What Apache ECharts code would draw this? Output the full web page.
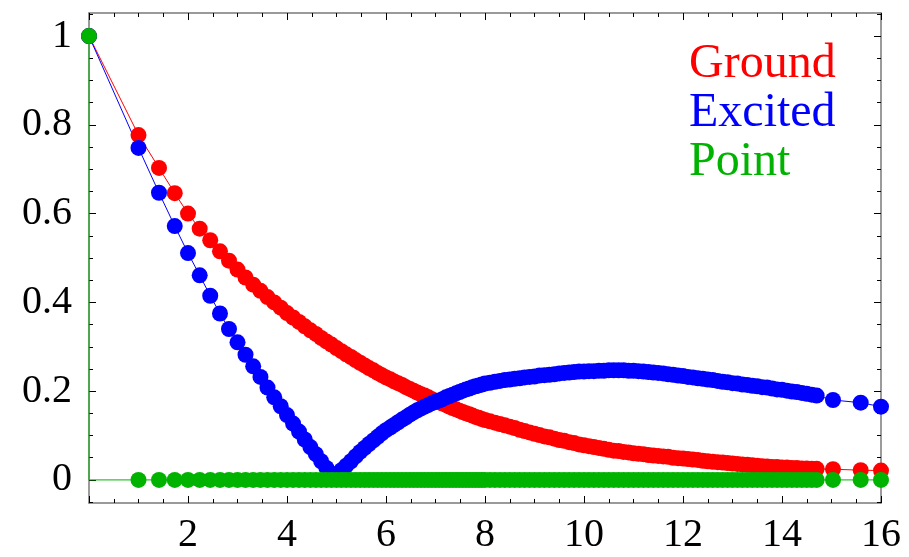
<!DOCTYPE html>
<html>
<head>
<meta charset="utf-8">
<script src="https://cdn.jsdelivr.net/npm/echarts@6/dist/echarts.min.js"></script>
<style>
  html, body { margin: 0; padding: 0; background: #fff; }
  #chart { width: 909px; height: 557px; }
</style>
</head>
<body>
<div id="chart"></div>
<script>
// Sample positions along the horizontal axis
const xValues = [
  0, 1, 1.414, 1.732, 2, 2.236, 2.449, 2.646, 2.828, 3, 3.162, 3.317, 3.464, 3.606, 3.742, 3.873,
  4, 4.123, 4.243, 4.359, 4.472, 4.583, 4.690, 4.796, 4.899, 5, 5.099, 5.196, 5.292, 5.385, 5.477,
  5.568, 5.657, 5.745, 5.831, 5.916, 6, 6.083, 6.164, 6.245, 6.325, 6.403, 6.481, 6.557, 6.633,
  6.708, 6.782, 6.856, 6.928, 7, 7.071, 7.141, 7.211, 7.280, 7.348, 7.416, 7.483, 7.550, 7.616,
  7.681, 7.746, 7.810, 7.874, 7.937, 8,
  8.1, 8.2, 8.3, 8.4, 8.5, 8.6, 8.7, 8.8, 8.9, 9, 9.1, 9.2, 9.3, 9.4, 9.5, 9.6, 9.7, 9.8, 9.9, 10,
  10.1, 10.2, 10.3, 10.4, 10.5, 10.6, 10.7, 10.8, 10.9, 11, 11.1, 11.2, 11.3, 11.4, 11.5, 11.6, 11.7,
  11.8, 11.9, 12, 12.1, 12.2, 12.3, 12.4, 12.5, 12.6, 12.7, 12.8, 12.9, 13, 13.1, 13.2, 13.3, 13.4,
  13.5, 13.6, 13.7, 13.8, 13.9, 14, 14.1, 14.2, 14.3, 14.4, 14.5, 14.6, 14.7,
  15.03, 15.59, 16
];

const groundValues = [
  1, 0.777, 0.703, 0.646, 0.600, 0.566, 0.540, 0.515, 0.494, 0.474, 0.456, 0.440, 0.426, 0.412, 0.400, 0.388,
  0.376, 0.366, 0.356, 0.346, 0.337, 0.329, 0.320, 0.312, 0.305, 0.297, 0.290, 0.283, 0.277, 0.270, 0.264,
  0.258, 0.252, 0.247, 0.241, 0.236, 0.231, 0.227, 0.222, 0.218, 0.214, 0.209, 0.205, 0.201, 0.197,
  0.193, 0.190, 0.186, 0.182, 0.178, 0.175, 0.172, 0.169, 0.165, 0.162, 0.159, 0.156, 0.153, 0.150,
  0.148, 0.145, 0.142, 0.140, 0.137, 0.135,
  0.132, 0.129, 0.126, 0.123, 0.120, 0.117, 0.113, 0.110, 0.107, 0.104,
  0.101, 0.098, 0.096, 0.093, 0.090, 0.088, 0.085, 0.083, 0.080, 0.078,
  0.076, 0.074, 0.072, 0.070, 0.068, 0.066, 0.065, 0.063, 0.062, 0.060,
  0.059, 0.058, 0.056, 0.055, 0.054, 0.053, 0.052, 0.050, 0.049, 0.048,
  0.047, 0.046, 0.045, 0.043, 0.042, 0.041, 0.040, 0.039, 0.038, 0.037,
  0.036, 0.035, 0.034, 0.033, 0.032, 0.031, 0.030, 0.029, 0.029, 0.028,
  0.028, 0.027, 0.027, 0.026, 0.026, 0.025, 0.025,
  0.024, 0.022, 0.021
];

const excitedValues = [
  1, 0.748, 0.647, 0.572, 0.511, 0.461, 0.415, 0.375, 0.340, 0.310, 0.282, 0.256, 0.232, 0.208, 0.186, 0.166,
  0.146, 0.127, 0.109, 0.091, 0.074, 0.058, 0.042, 0.027, 0.014, 0.012, 0.022, 0.032, 0.042, 0.053, 0.063,
  0.072, 0.081, 0.089, 0.097, 0.105, 0.112, 0.118, 0.124, 0.130, 0.136, 0.141, 0.147, 0.152, 0.157,
  0.161, 0.165, 0.169, 0.173, 0.176, 0.179, 0.182, 0.186, 0.189, 0.192, 0.195, 0.198, 0.201, 0.204,
  0.206, 0.209, 0.211, 0.213, 0.215, 0.217,
  0.219, 0.221, 0.223, 0.225, 0.226, 0.228, 0.229, 0.231, 0.232, 0.233,
  0.235, 0.236, 0.237, 0.238, 0.240, 0.241, 0.242, 0.243, 0.244, 0.244,
  0.245, 0.245, 0.246, 0.246, 0.247, 0.247, 0.247, 0.247, 0.246, 0.246,
  0.245, 0.244, 0.243, 0.242, 0.241, 0.240, 0.238, 0.237, 0.235, 0.234,
  0.232, 0.231, 0.229, 0.228, 0.226, 0.225, 0.223, 0.221, 0.220, 0.218,
  0.217, 0.215, 0.214, 0.212, 0.211, 0.209, 0.208, 0.206, 0.204, 0.203,
  0.201, 0.199, 0.198, 0.196, 0.194, 0.192, 0.190,
  0.180, 0.174, 0.165
];

const pointValues = [
  1, 0, 0, 0, 0, 0, 0, 0, 0, 0, 0, 0, 0, 0, 0, 0,
  0, 0, 0, 0, 0, 0, 0, 0, 0, 0, 0, 0, 0, 0, 0,
  0, 0, 0, 0, 0, 0, 0, 0, 0, 0, 0, 0, 0, 0,
  0, 0, 0, 0, 0, 0, 0, 0, 0, 0, 0, 0, 0, 0,
  0, 0, 0, 0, 0, 0,
  0, 0, 0, 0, 0, 0, 0, 0, 0, 0,
  0, 0, 0, 0, 0, 0, 0, 0, 0, 0,
  0, 0, 0, 0, 0, 0, 0, 0, 0, 0,
  0, 0, 0, 0, 0, 0, 0, 0, 0, 0,
  0, 0, 0, 0, 0, 0, 0, 0, 0, 0,
  0, 0, 0, 0, 0, 0, 0, 0, 0, 0,
  0, 0, 0, 0, 0, 0, 0,
  0, 0, 0
];

// Tick positions
const yMajorTicks = [0, 0.2, 0.4, 0.6, 0.8, 1];
const yMinorTicks = [-0.05, 0.05, 0.1, 0.15, 0.25, 0.3, 0.35, 0.45, 0.5, 0.55, 0.65, 0.7, 0.75, 0.85, 0.9, 0.95, 1.05];

const SERIF = "'Liberation Serif', 'DejaVu Serif', serif";
const RED = '#ff0000', BLUE = '#0000ff', GREEN = '#00b300';
const FRAME = '#7a7a7a';

const pairs = vals => xValues.map((x, i) => [x, vals[i]]);

// The point series drops straight down the left edge before running along zero
const pointData = pairs(pointValues);
pointData.splice(1, 0, { value: [xValues[0], 0], symbol: 'none' });

const gridRect = { left: 89, right: 28, top: 13, bottom: 54 };

function xAxisCfg(position, showLabels) {
  return {
    type: 'value', gridIndex: 0, position,
    min: 0, max: 16, interval: 2,
    axisLine: { show: true, onZero: false, lineStyle: { color: FRAME, width: 1.5 } },
    axisTick: { show: true, inside: true, length: 7, lineStyle: { color: '#000', width: 1 } },
    minorTick: { show: true, splitNumber: 4, length: 4, lineStyle: { color: '#000', width: 1 } },
    axisLabel: {
      show: showLabels, margin: 12, color: '#000', fontFamily: SERIF, fontSize: 40,
      formatter: v => (v === 0 ? '' : String(v))
    },
    splitLine: { show: false }, minorSplitLine: { show: false }
  };
}

function yMajorCfg(position, showLabels) {
  return {
    type: 'value', gridIndex: 0, position,
    min: -0.052, max: 1.052,
    axisLine: { show: true, onZero: false, lineStyle: { color: FRAME, width: 1.5 } },
    axisTick: { show: true, inside: true, length: 7, customValues: yMajorTicks, lineStyle: { color: '#000', width: 1 } },
    axisLabel: {
      show: showLabels, margin: 17, color: '#000', fontFamily: SERIF, fontSize: 40,
      customValues: yMajorTicks,
      formatter: v => String(Math.round(v * 10) / 10)
    },
    splitLine: { show: false }
  };
}

function yMinorCfg(position) {
  return {
    type: 'value', gridIndex: 1, position,
    min: -0.052, max: 1.052,
    axisLine: { show: false },
    axisTick: { show: true, inside: true, length: 4, customValues: yMinorTicks, lineStyle: { color: '#000', width: 1 } },
    axisLabel: { show: false },
    splitLine: { show: false }
  };
}

function lineSeries(name, color, data) {
  return {
    name, type: 'line', xAxisIndex: 0, yAxisIndex: 0,
    data, symbol: 'circle', symbolSize: 16, showAllSymbol: true,
    itemStyle: { color }, lineStyle: { color, width: 1 },
    emphasis: { disabled: true }, clip: true
  };
}

const chart = echarts.init(document.getElementById('chart'), null, { renderer: 'canvas' });
chart.setOption({
  animation: false,
  backgroundColor: '#fff',
  grid: [Object.assign({}, gridRect), Object.assign({}, gridRect)],
  xAxis: [
    xAxisCfg('bottom', true),
    xAxisCfg('top', false),
    { type: 'value', gridIndex: 1, min: 0, max: 16, show: false }
  ],
  yAxis: [
    yMajorCfg('left', true),
    yMajorCfg('right', false),
    yMinorCfg('left'),
    yMinorCfg('right')
  ],
  legend: {
    orient: 'vertical', left: 679, top: 35, itemGap: 1,
    icon: 'none', itemWidth: 0, itemHeight: 0, selectedMode: false,
    textStyle: { fontFamily: SERIF, fontSize: 48 },
    data: [
      { name: 'Ground', textStyle: { color: RED } },
      { name: 'Excited', textStyle: { color: BLUE } },
      { name: 'Point', textStyle: { color: GREEN } }
    ]
  },
  series: [
    lineSeries('Ground', RED, pairs(groundValues)),
    lineSeries('Excited', BLUE, pairs(excitedValues)),
    lineSeries('Point', GREEN, pointData)
  ]
});
</script>
</body>
</html>
